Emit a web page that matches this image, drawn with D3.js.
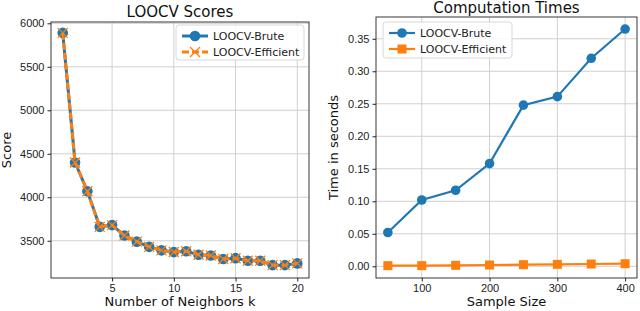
<!DOCTYPE html>
<html lang="en">
<head>
  <meta charset="UTF-8">
  <title>LOOCV Scores and Computation Times</title>
  <script src="https://d3js.org/d3.v7.min.js"></script>
  <style>
    body { margin: 0; background: white; }
    svg { font-family: "DejaVu Sans", sans-serif; }
    .tick text { font-size: 11px; fill: #222; }
    .tick line { stroke: #222; }
    .axis-label { font-size: 13px; fill: #111; }
    .title { font-size: 15px; fill: #111; }
    .grid line { stroke: #d0d0d0; stroke-width: 1; }
    .legend text { font-size: 11px; fill: #222; }
  </style>
</head>
<body>
  <svg width="640" height="311"></svg>

  <script>
    const blue = "#1f77b4";
    const orange = "#ff7f0e";

    // LOOCV scores
    const neighbors = d3.range(1, 21);
    const bruteScores = [5890, 4400, 4070, 3660, 3680, 3560, 3490, 3430, 3390, 3370,
                         3380, 3340, 3330, 3290, 3300, 3270, 3270, 3220, 3220, 3240];
    const efficientScores = [5890, 4400, 4070, 3660, 3680, 3560, 3490, 3430, 3390, 3370,
                             3380, 3340, 3330, 3290, 3300, 3270, 3270, 3220, 3220, 3240];
    const scoreTicksX = [5, 10, 15, 20];
    const scoreTicksY = [3500, 4000, 4500, 5000, 5500, 6000];

    // computation times
    const sampleSizes = [50, 100, 150, 200, 250, 300, 350, 400];
    const bruteTimes = [0.052, 0.102, 0.117, 0.158, 0.248, 0.261, 0.320, 0.365];
    const efficientTimes = [0.001, 0.001, 0.0015, 0.002, 0.0025, 0.003, 0.0035, 0.004];
    const timeTicksX = [100, 200, 300, 400];
    const timeTicksY = [0, 0.05, 0.10, 0.15, 0.20, 0.25, 0.30, 0.35];

    const svg = d3.select("svg");

    function panel(box, xDomain, yDomain, xTicks, yTicks, yFmt) {
      const x = d3.scaleLinear().domain(xDomain).range([box.left, box.right]);
      const y = d3.scaleLinear().domain(yDomain).range([box.bottom, box.top]);
      const g = svg.append("g");

      // grid
      const grid = g.append("g").attr("class", "grid");
      grid.selectAll(".gx").data(xTicks).enter().append("line")
        .attr("x1", d => x(d)).attr("x2", d => x(d))
        .attr("y1", box.top).attr("y2", box.bottom);
      grid.selectAll(".gy").data(yTicks).enter().append("line")
        .attr("x1", box.left).attr("x2", box.right)
        .attr("y1", d => y(d)).attr("y2", d => y(d));

      g.append("g")
        .attr("transform", `translate(0,${box.bottom})`)
        .call(d3.axisBottom(x).tickValues(xTicks).tickSize(3.5).tickPadding(3))
        .call(a => a.select(".domain").remove());
      g.append("g")
        .attr("transform", `translate(${box.left},0)`)
        .call(d3.axisLeft(y).tickValues(yTicks).tickFormat(yFmt).tickSize(3.5).tickPadding(3))
        .call(a => a.select(".domain").remove());

      return { g, x, y };
    }

    function frame(g, box) {
      g.append("rect")
        .attr("x", box.left).attr("y", box.top)
        .attr("width", box.right - box.left).attr("height", box.bottom - box.top)
        .attr("fill", "none").attr("stroke", "#222").attr("stroke-width", 0.9);
    }

    function legend(g, x0, y0, w, h, items) {
      const lg = g.append("g").attr("class", "legend");
      lg.append("rect")
        .attr("x", x0).attr("y", y0).attr("width", w).attr("height", h)
        .attr("rx", 3).attr("fill", "white").attr("fill-opacity", 0.85)
        .attr("stroke", "#d8d8d8");
      items.forEach((it, i) => {
        const cy = y0 + 11 + i * 16;
        it.draw(lg, x0 + 19, cy);
        lg.append("text").attr("x", x0 + 37).attr("y", cy + 4).text(it.label);
      });
    }

    // ---- left panel ----
    const boxL = { left: 51, right: 309, top: 22, bottom: 278 };
    const L = panel(boxL, [0.05, 20.95], [3072, 6015], scoreTicksX, scoreTicksY, d3.format("d"));

    const lineL = (vals) => d3.line().x((d, i) => L.x(neighbors[i])).y(d => L.y(d))(vals);
    L.g.append("path").attr("d", lineL(bruteScores))
      .attr("fill", "none").attr("stroke", blue).attr("stroke-width", 3);
    L.g.selectAll(".bc").data(bruteScores).enter().append("circle")
      .attr("cx", (d, i) => L.x(neighbors[i])).attr("cy", d => L.y(d))
      .attr("r", 5.3).attr("fill", blue);
    L.g.append("path").attr("d", lineL(efficientScores))
      .attr("fill", "none").attr("stroke", orange).attr("stroke-width", 3)
      .attr("stroke-dasharray", "7,3");
    const cross = (sel, cx, cy, s) => {
      sel.append("path")
        .attr("d", `M${cx - s},${cy - s}L${cx + s},${cy + s}M${cx - s},${cy + s}L${cx + s},${cy - s}`)
        .attr("stroke", orange).attr("stroke-width", 1.3).attr("fill", "none");
    };
    efficientScores.forEach((d, i) => cross(L.g, L.x(neighbors[i]), L.y(d), 5));
    frame(L.g, boxL);

    legend(L.g, 176, 25, 128, 35, [
      { label: "LOOCV-Brute", draw: (s, cx, cy) => {
          s.append("line").attr("x1", cx - 13).attr("x2", cx + 13).attr("y1", cy).attr("y2", cy)
            .attr("stroke", blue).attr("stroke-width", 3);
          s.append("circle").attr("cx", cx).attr("cy", cy).attr("r", 5.3).attr("fill", blue);
        } },
      { label: "LOOCV-Efficient", draw: (s, cx, cy) => {
          s.append("line").attr("x1", cx - 13).attr("x2", cx + 13).attr("y1", cy).attr("y2", cy)
            .attr("stroke", orange).attr("stroke-width", 3).attr("stroke-dasharray", "7,3");
          cross(s, cx, cy, 5);
        } }
    ]);

    svg.append("text").attr("class", "title").attr("x", (boxL.left + boxL.right) / 2).attr("y", 17)
      .attr("text-anchor", "middle").text("LOOCV Scores");
    svg.append("text").attr("class", "axis-label").attr("x", (boxL.left + boxL.right) / 2).attr("y", 306)
      .attr("text-anchor", "middle").text("Number of Neighbors k");
    svg.append("text").attr("class", "axis-label")
      .attr("transform", `translate(11,${(boxL.top + boxL.bottom) / 2}) rotate(-90)`)
      .attr("text-anchor", "middle").text("Score");

    // ---- right panel ----
    const boxR = { left: 376, right: 637, top: 17, bottom: 278 };
    const R = panel(boxR, [32.5, 417.5], [-0.018, 0.3835], timeTicksX, timeTicksY, d3.format(".2f"));

    const lineR = (vals) => d3.line().x((d, i) => R.x(sampleSizes[i])).y(d => R.y(d))(vals);
    R.g.append("path").attr("d", lineR(bruteTimes))
      .attr("fill", "none").attr("stroke", blue).attr("stroke-width", 2.2);
    R.g.selectAll(".rc").data(bruteTimes).enter().append("circle")
      .attr("cx", (d, i) => R.x(sampleSizes[i])).attr("cy", d => R.y(d))
      .attr("r", 4.8).attr("fill", blue);
    R.g.append("path").attr("d", lineR(efficientTimes))
      .attr("fill", "none").attr("stroke", orange).attr("stroke-width", 2.2);
    R.g.selectAll(".rs").data(efficientTimes).enter().append("rect")
      .attr("x", (d, i) => R.x(sampleSizes[i]) - 4.5).attr("y", d => R.y(d) - 4.5)
      .attr("width", 9).attr("height", 9).attr("fill", orange);
    frame(R.g, boxR);

    legend(R.g, 383, 22, 129, 36, [
      { label: "LOOCV-Brute", draw: (s, cx, cy) => {
          s.append("line").attr("x1", cx - 13).attr("x2", cx + 13).attr("y1", cy).attr("y2", cy)
            .attr("stroke", blue).attr("stroke-width", 2.2);
          s.append("circle").attr("cx", cx).attr("cy", cy).attr("r", 4.8).attr("fill", blue);
        } },
      { label: "LOOCV-Efficient", draw: (s, cx, cy) => {
          s.append("line").attr("x1", cx - 13).attr("x2", cx + 13).attr("y1", cy).attr("y2", cy)
            .attr("stroke", orange).attr("stroke-width", 2.2);
          s.append("rect").attr("x", cx - 4.5).attr("y", cy - 4.5).attr("width", 9).attr("height", 9)
            .attr("fill", orange);
        } }
    ]);

    svg.append("text").attr("class", "title").attr("x", (boxR.left + boxR.right) / 2).attr("y", 13)
      .attr("text-anchor", "middle").text("Computation Times");
    svg.append("text").attr("class", "axis-label").attr("x", (boxR.left + boxR.right) / 2).attr("y", 306)
      .attr("text-anchor", "middle").text("Sample Size");
    svg.append("text").attr("class", "axis-label")
      .attr("transform", `translate(338,${(boxR.top + boxR.bottom) / 2}) rotate(-90)`)
      .attr("text-anchor", "middle").text("Time in seconds");
  </script>
</body>
</html>
